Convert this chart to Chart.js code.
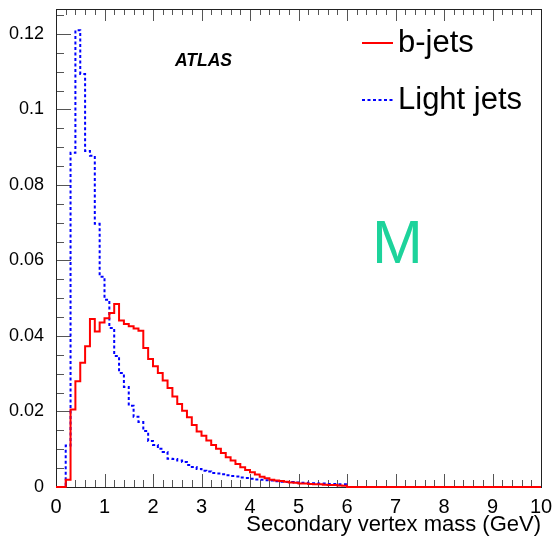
<!DOCTYPE html>
<html lang="en">
<head>
<meta charset="UTF-8">
<title>Secondary vertex mass</title>
<script src="https://cdn.jsdelivr.net/npm/chart.js"></script>
<style>
    html, body { margin: 0; padding: 0; background: #fff; }
    #wrap { width: 554px; height: 536px; }
</style>
</head>
<body>
<div id="wrap"><canvas id="svMass" width="554" height="536"></canvas></div>
<script>
    // binning in GeV, 0.1 GeV per bin
    const binWidth = 0.1;
    const xRange = [0, 10];
    const yMax = 0.1266;
    const xTickLabels = [0, 1, 2, 3, 4, 5, 6, 7, 8, 9, 10];
    const yTickLabels = [0, 0.02, 0.04, 0.06, 0.08, 0.1, 0.12];
    const seriesNames = ['b-jets', 'Light jets'];

    // bin contents starting at 0 GeV; bins past the end of each list are empty
    const bJets = [
        0, 0, 0.0019, 0.0205, 0.0280, 0.0329, 0.0373, 0.0445, 0.0412, 0.0436,
        0.0447, 0.0461, 0.0485, 0.0441, 0.0432, 0.0426, 0.0420, 0.0414, 0.0368, 0.0339,
        0.0320, 0.0302, 0.0282, 0.0262, 0.0240, 0.0220, 0.0202, 0.0185, 0.0164, 0.0147,
        0.0136, 0.0123, 0.0111, 0.0101, 0.0090, 0.0079, 0.0070, 0.0061, 0.0052, 0.0045,
        0.0039, 0.0033, 0.0027, 0.0023, 0.0019, 0.0017, 0.0016, 0.0014, 0.0012, 0.0011,
        0.0009, 0.0009, 0.0008, 0.0007, 0.0007, 0.0006, 0.0005, 0.0005, 0.0004, 0.0003
    ];
    const lightJets = [
        0, 0, 0.0110, 0.0885, 0.1210, 0.1094, 0.0890, 0.0877, 0.0697, 0.0557,
        0.0496, 0.0421, 0.0347, 0.0302, 0.0265, 0.0215, 0.0186, 0.0172, 0.0148, 0.0122,
        0.0111, 0.0101, 0.0093, 0.0075, 0.0074, 0.0070, 0.0066, 0.0058, 0.0053, 0.0048,
        0.0043, 0.0041, 0.0037, 0.0036, 0.0034, 0.0031, 0.0029, 0.0028, 0.0025, 0.0024,
        0.0022, 0.0020, 0.0019, 0.0018, 0.0017, 0.0015, 0.0014, 0.0013, 0.0013, 0.0012,
        0.0011, 0.0011, 0.0010, 0.0010, 0.0009, 0.0009, 0.0008, 0.0008, 0.0007, 0.0007
    ];

    const FONT = "'Liberation Sans', Arial, Helvetica, sans-serif";

    // turn bin contents into left-edge points for a stepped line
    function histPoints(values) {
        const nBins = Math.round((xRange[1] - xRange[0]) / binWidth);
        const pts = [];
        for (let i = 0; i < nBins; i++) {
            const x = +(xRange[0] + i * binWidth).toFixed(2);
            pts.push({ x: x, y: i < values.length ? values[i] : 0 });
        }
        pts.push({ x: xRange[1], y: 0 });
        return pts;
    }

    // ROOT style frame with ticks pointing into the pad
    const frameTicks = {
        id: 'frameTicks',
        beforeDatasetsDraw(chart) {
            const { ctx, chartArea: a, scales: { x, y } } = chart;
            ctx.save();
            ctx.strokeStyle = '#555';
            ctx.lineWidth = 1;
            ctx.beginPath();
            // x ticks, bottom and top
            for (let v = xRange[0]; v <= xRange[1] + 1e-9; v += 0.2) {
                const major = Math.abs(v - Math.round(v)) < 1e-6;
                const px = Math.round(x.getPixelForValue(v)) + 0.5;
                const len = major ? 13 : 7;
                ctx.moveTo(px, a.bottom); ctx.lineTo(px, a.bottom - len);
                ctx.moveTo(px, a.top); ctx.lineTo(px, a.top + (major ? 12 : 6));
            }
            // y ticks, left only
            for (let k = 0; k * 0.005 <= yMax; k++) {
                const v = k * 0.005;
                const major = k % 4 === 0;
                const py = Math.round(y.getPixelForValue(v)) + 0.5;
                ctx.moveTo(a.left, py); ctx.lineTo(a.left + (major ? 15 : 8), py);
            }
            ctx.stroke();
            ctx.strokeStyle = '#222';
            ctx.strokeRect(Math.round(a.left) + 0.5, Math.round(a.top) + 0.5,
                Math.round(a.right - a.left), Math.round(a.bottom - a.top));
            ctx.restore();
        },
        afterDraw(chart) {
            const { ctx, chartArea: a } = chart;
            const ds = chart.data.datasets;
            ctx.save();
            // legend
            const legendRows = [43, 100];
            ds.forEach((d, i) => {
                const ly = legendRows[i];
                ctx.strokeStyle = d.borderColor;
                ctx.lineWidth = 2;
                ctx.setLineDash(d.borderDash || []);
                ctx.beginPath();
                ctx.moveTo(362, ly); ctx.lineTo(393, ly);
                ctx.stroke();
                ctx.setLineDash([]);
                ctx.fillStyle = '#000';
                ctx.font = '31px ' + FONT;
                ctx.textAlign = 'left';
                ctx.textBaseline = 'alphabetic';
                ctx.fillText(d.label, 398, ly + 9);
            });
            // ATLAS tag
            ctx.font = 'italic bold 17.5px ' + FONT;
            ctx.fillText('ATLAS', 175, 66);
            // big letter
            ctx.fillStyle = '#1dd39b';
            ctx.font = '61px ' + FONT;
            ctx.fillText('M', 372, 263);
            // axis title
            ctx.fillStyle = '#000';
            ctx.font = '22px ' + FONT;
            ctx.textAlign = 'right';
            ctx.fillText('Secondary vertex mass (GeV)', a.right, 531);
            ctx.restore();
        }
    };

    const ctx = document.getElementById('svMass').getContext('2d');
    new Chart(ctx, {
        type: 'line',
        data: {
            datasets: [
                {
                    label: seriesNames[0],
                    data: histPoints(bJets),
                    borderColor: '#ff0000',
                    borderWidth: 2,
                    stepped: 'before',
                    pointRadius: 0,
                    fill: false,
                    clip: false
                },
                {
                    label: seriesNames[1],
                    data: histPoints(lightJets),
                    borderColor: '#0000ff',
                    borderWidth: 2,
                    borderDash: [3, 2.5],
                    stepped: 'before',
                    pointRadius: 0,
                    fill: false,
                    clip: false
                }
            ]
        },
        options: {
            responsive: false,
            animation: false,
            layout: { padding: { top: 9, right: 13, left: 0, bottom: 0 } },
            plugins: { legend: { display: false }, tooltip: { enabled: false } },
            scales: {
                x: {
                    type: 'linear',
                    min: xRange[0],
                    max: xRange[1],
                    grid: { display: false, drawTicks: false },
                    border: { display: false },
                    afterBuildTicks: s => { s.ticks = xTickLabels.map(v => ({ value: v })); },
                    afterFit: s => { s.height = 49; s.paddingLeft = 0; s.paddingRight = 0; },
                    ticks: {
                        padding: 8,
                        color: '#000',
                        font: { family: FONT, size: 20 },
                        maxRotation: 0,
                        autoSkip: false
                    }
                },
                y: {
                    min: 0,
                    max: yMax,
                    grid: { display: false, drawTicks: false },
                    border: { display: false },
                    afterBuildTicks: s => { s.ticks = yTickLabels.map(v => ({ value: v })); },
                    afterFit: s => { s.width = 56; s.paddingTop = 0; s.paddingBottom = 0; },
                    ticks: {
                        padding: 12,
                        color: '#000',
                        font: { family: FONT, size: 18 },
                        callback: v => String(parseFloat(v.toFixed(3)))
                    }
                }
            }
        },
        plugins: [frameTicks]
    });
</script>
</body>
</html>
